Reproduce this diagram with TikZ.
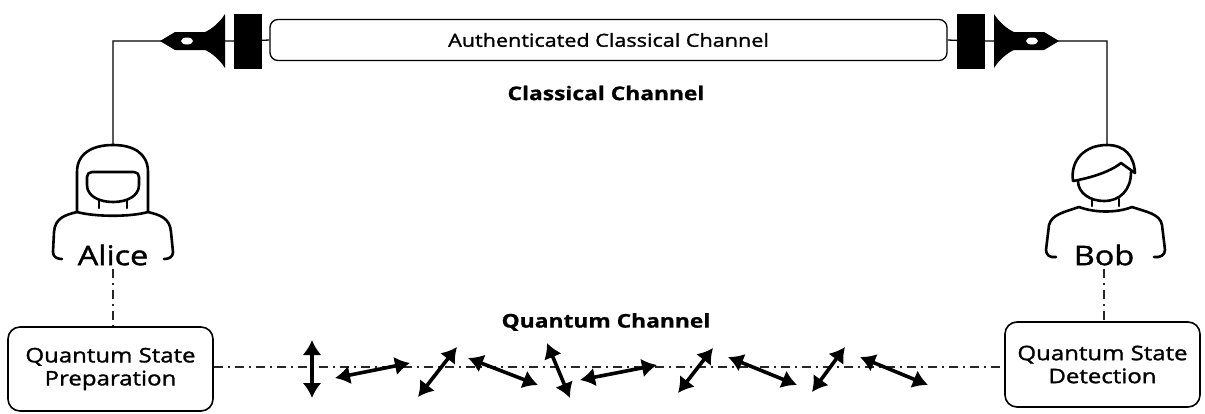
\documentclass[tikz,border=0pt]{standalone}
\usepackage{fontspec}
\setmainfont{Open Sans}[FakeStretch=1.2,UprightFeatures={FakeBold=1.5},BoldFeatures={FakeBold=0.8}]
\usetikzlibrary{arrows.meta}

\begin{document}
\begin{tikzpicture}[x=1pt,y=-1pt]
  % Styles
  \tikzstyle{fil}=[line width=1.3pt]
  \tikzstyle{canal}=[draw,line width=1.3pt,rounded corners=8pt,minimum width=677pt,minimum height=41pt,inner sep=0pt,font=\fontsize{18}{22}\selectfont]
  \tikzstyle{bloc}=[fill=black,minimum width=28pt,minimum height=55pt,inner sep=0pt]
  \tikzstyle{boite}=[draw,line width=1.6pt,rounded corners=12pt,align=center,inner sep=0pt,font=\fontsize{20}{23}\selectfont]
  \tikzstyle{titre}=[font=\bfseries\fontsize{19}{22}\selectfont]
  \tikzstyle{nom}=[font=\fontsize{27}{30}\selectfont]
  \tikzstyle{silhouette}=[line width=2.6pt,line cap=round,line join=round]
  \tikzstyle{pointille}=[line width=1.5pt,black!85,dash pattern=on 9pt off 5pt on 2pt off 5pt]
  \tikzstyle{photon}=[line width=3.6pt,{Latex[length=15pt,width=19pt]}-{Latex[length=15pt,width=19pt]}]
  % Plume (pointe en (0,0), tournee vers la gauche)
  \def\Plume{%
    \fill (0,0) -- (15,-9) -- (45,-9) .. controls (52,-12) and (60,-19) .. (65,-27)
      -- (65,27) .. controls (60,19) and (52,12) .. (45,9) -- (15,9) -- cycle;
    \fill[white] (27,0) ellipse [x radius=6pt,y radius=3.5pt];}

  \useasboundingbox (0,0) rectangle (1205,413);

  % Noeuds
  \node[canal] (canal) at (608.5,40) {Authenticated Classical Channel};
  \node[bloc] (blocA) at (248,41) {};
  \node[bloc] (blocB) at (971,41) {};
  \coordinate (plumeA) at (160,41);
  \coordinate (plumeB) at (1059,41);
  \coordinate (hautA) at (113,145);
  \coordinate (hautB) at (1107,145);
  \node[titre] (classique) at (606,93) {Classical Channel};
  \node[titre] (quantique) at (606,322) {Quantum Channel};
  \node[nom] (alice) at (113,255) {Alice};
  \node[nom] (bob) at (1104,255) {Bob};
  \node[boite,minimum width=205pt,minimum height=84pt] (prep) at (110.5,369) {Quantum State\\Preparation};
  \node[boite,minimum width=195pt,minimum height=85pt] (detect) at (1102.5,364.5) {Quantum State\\Detection};
  \coordinate (axe) at (0,367);

  % Canal classique
  \draw[fil] (hautA) |- (plumeA) -- (blocA) -- (canal.west);
  \draw[fil] (hautB) |- (plumeB) -- (blocB) -- (canal.east);
  \begin{scope}[shift={(plumeA)}] \Plume \end{scope}
  \begin{scope}[shift={(plumeB)},xscale=-1] \Plume \end{scope}

  % Alice
  \draw[silhouette] (77,212) -- (77,172) .. controls (77,153) and (93,145) .. (113,145)
    .. controls (133,145) and (148,153) .. (148,172) -- (148,212);
  \draw[silhouette] (87,185) -- (87,177) .. controls (87,174) and (89,172) .. (92,172) -- (134,172)
    .. controls (137,172) and (139,174) .. (139,177) -- (139,185)
    .. controls (139,196) and (127,202) .. (113,202) .. controls (99,202) and (87,196) .. (87,185);
  \draw[silhouette] (99,200) -- (99,208) (127,200) -- (127,208);
  \draw[silhouette] (77,212) .. controls (95,217) and (131,217) .. (148,212);
  \draw[silhouette] (77,212) .. controls (65,215) and (55,218) .. (54,232) -- (53,252)
    .. controls (53,257) and (57,259) .. (62,259);
  \draw[silhouette] (148,212) .. controls (160,215) and (170,218) .. (171,232) -- (173,252)
    .. controls (173,257) and (169,259) .. (164,259);

  % Bob
  \draw[silhouette] (1073,181) .. controls (1070,160) and (1085,145) .. (1107,145)
    .. controls (1125,145) and (1134,156) .. (1135,173) -- (1121,163)
    .. controls (1110,172) and (1090,178) .. (1073,181);
  \draw[silhouette] (1078,181) .. controls (1078,193) and (1090,201) .. (1104,201)
    .. controls (1120,201) and (1131,190) .. (1131,172);
  \draw[silhouette] (1092,199) -- (1092,206) (1119,199) -- (1119,206);
  \draw[silhouette] (1079,207) .. controls (1095,213) and (1117,213) .. (1132,207);
  \draw[silhouette] (1079,207) .. controls (1065,212) and (1052,214) .. (1049,225) -- (1046,250)
    .. controls (1046,255) and (1050,258) .. (1056,257);
  \draw[silhouette] (1132,207) .. controls (1147,212) and (1160,214) .. (1162,225) -- (1165,250)
    .. controls (1165,255) and (1160,258) .. (1154,257);

  % Canal quantique
  \draw[pointille] (alice.south) -- (alice.south |- prep.north);
  \draw[pointille] (bob.south) -- (bob.south |- detect.north);
  \draw[pointille] (prep.east |- axe) -- (detect.west |- axe);
  \foreach \xa/\ya/\xb/\yb in {312/340/312/398, 335/378/410/363, 418/397/457/347,
      468/358/538/385, 547/343/570/398, 580/380/657/365, 678/393/713/348,
      728/357/797/385, 812/392/845/347, 860/357/928/385}
    \draw[photon] (\xa,\ya) -- (\xb,\yb);
\end{tikzpicture}
\end{document}
